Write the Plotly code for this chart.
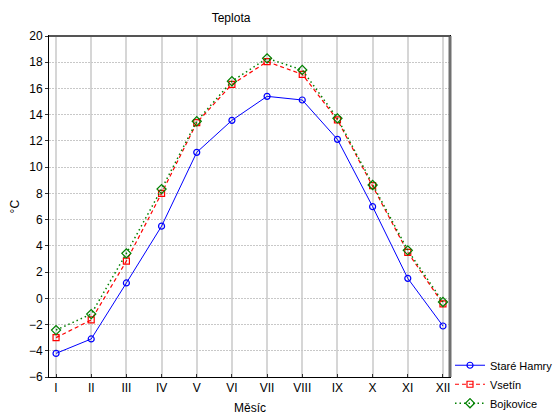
import plotly.graph_objects as go

months = ["I", "II", "III", "IV", "V", "VI", "VII", "VIII", "IX", "X", "XI", "XII"]
stare_hamry = [-4.2, -3.1, 1.17, 5.5, 11.13, 13.57, 15.4, 15.12, 12.12, 6.99, 1.52, -2.11]
vsetin = [-3.0, -1.65, 2.84, 8.0, 13.39, 16.31, 18.04, 17.08, 13.6, 8.59, 3.5, -0.43]
bojkovice = [-2.42, -1.2, 3.43, 8.33, 13.5, 16.55, 18.3, 17.41, 13.72, 8.64, 3.66, -0.28]
y_ticks = list(range(-6, 21, 2))

x = list(range(1, 13))
font = dict(family="Liberation Sans, Arial, sans-serif", size=12, color="black")

fig = go.Figure()
fig.add_trace(go.Scatter(x=x, y=stare_hamry, name="Staré Hamry", mode="lines+markers",
                         line=dict(color="#0000ff", width=1),
                         marker=dict(symbol="circle-open", size=6, color="#0000ff", line=dict(width=1.2))))
fig.add_trace(go.Scatter(x=x, y=vsetin, name="Vsetín", mode="lines+markers",
                         line=dict(color="#ff0000", width=1.2, dash="4px,3px"),
                         marker=dict(symbol="square-open", size=6, color="#ff0000", line=dict(width=1.2))))
fig.add_trace(go.Scatter(x=x, y=bojkovice, name="Bojkovice", mode="lines+markers",
                         line=dict(color="#008000", width=1.5, dash="1.5px,3px"),
                         marker=dict(symbol="diamond-open", size=7, color="#008000", line=dict(width=1.2))))

fig.update_layout(
    width=553, height=416,
    margin=dict(l=49, r=103, t=36, b=39, autoexpand=False),
    paper_bgcolor="white", plot_bgcolor="white",
    font=font,
    title=dict(text="Teplota", x=0.454, xref="paper", xanchor="center", y=1 - 18 / 416, yanchor="middle",
               font=dict(size=12)),
    showlegend=True,
    legend=dict(x=1.0, xanchor="left", y=0.077, yanchor="top", bgcolor="rgba(0,0,0,0)",
                font=dict(size=11), tracegroupgap=0, itemwidth=30),
    xaxis=dict(range=[0.8, 12.2], tickmode="array", tickvals=x, ticktext=months,
               showgrid=True, gridcolor="#d6d6d6", gridwidth=2,
               showline=True, linecolor="black", linewidth=1, mirror=True,
               ticks="inside", ticklen=3, tickcolor="#333", zeroline=False),
    yaxis=dict(range=[-6, 20], tickmode="array", tickvals=y_ticks,
               showgrid=True, gridcolor="#c8c8c8", gridwidth=1, griddash="2px,1px",
               showline=True, linecolor="black", linewidth=1, mirror=True,
               ticks="outside", ticklen=3, tickcolor="#333", zeroline=False),
    shapes=[
        dict(type="line", xref="paper", yref="paper", x0=1, x1=1, y0=0, y1=1,
             line=dict(color="#707070", width=3)),
        dict(type="line", xref="paper", yref="paper", x0=0, x1=1, y0=1, y1=1,
             line=dict(color="#555555", width=2)),
    ],
    annotations=[
        dict(text="°C", xref="paper", yref="paper", x=-0.085, y=0.5, textangle=-90,
             showarrow=False, font=dict(size=12), xanchor="center", yanchor="middle"),
        dict(text="Měsíc", xref="paper", yref="paper", x=0.5, y=0, yshift=-31,
             showarrow=False, font=dict(size=12), xanchor="center", yanchor="middle"),
    ],
)

fig.write_html("out.html")
